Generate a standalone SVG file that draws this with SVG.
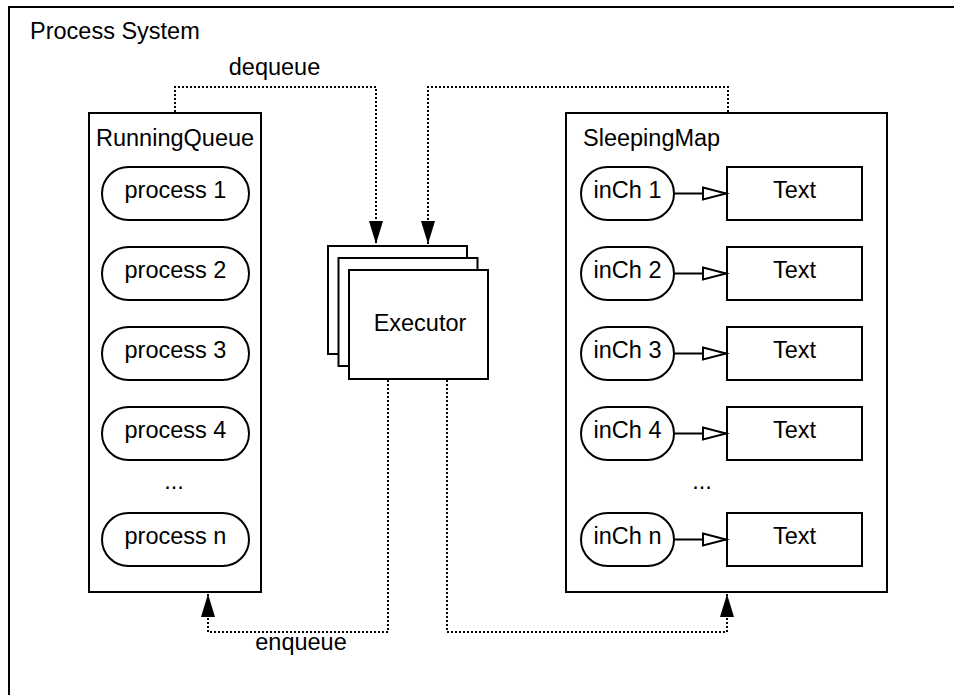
<svg xmlns="http://www.w3.org/2000/svg" width="954" height="695" viewBox="0 0 954 695">
  <style>
    .box { fill: #ffffff; stroke: #000000; stroke-width: 2; }
    .frame { fill: none; stroke: #000000; stroke-width: 2; }
    .lbl { font-family: "Liberation Sans", Arial, sans-serif; font-size: 23.5px; fill: #000000; }
    .mid { text-anchor: middle; }
    .dot { fill: none; stroke: #000000; stroke-width: 2; stroke-dasharray: 2 2; }
    .link { fill: none; stroke: #000000; stroke-width: 2; }
  </style>
  <defs>
    <marker id="solidHead" markerUnits="userSpaceOnUse" markerWidth="24" markerHeight="15" refX="23" refY="7" orient="auto" overflow="visible">
      <path d="M0 0 L23 7 L0 14 Z" fill="#000000"/>
    </marker>
    <marker id="openHead" markerUnits="userSpaceOnUse" markerWidth="24" markerHeight="13" refX="23" refY="6" orient="auto" overflow="visible">
      <path d="M0 0 L23 6 L0 12 Z" fill="#ffffff" stroke="#000000" stroke-width="2"/>
    </marker>
  </defs>

  <!-- outer system frame -->
  <g id="process-system">
    <rect class="frame" x="9" y="7" width="960" height="720"/>
    <text class="lbl" x="30" y="39">Process System</text>
  </g>

  <!-- running queue container -->
  <g id="running-queue">
    <rect class="box" x="89" y="113" width="172" height="479"/>
    <text class="lbl" x="96" y="146">RunningQueue</text>
  </g>
  <g id="process-1">
    <rect class="box" x="102" y="167" width="147" height="53" rx="26.5"/>
    <text class="lbl mid" x="175.5" y="198">process 1</text>
  </g>
  <g id="process-2">
    <rect class="box" x="102" y="247" width="147" height="53" rx="26.5"/>
    <text class="lbl mid" x="175.5" y="278">process 2</text>
  </g>
  <g id="process-3">
    <rect class="box" x="102" y="327" width="147" height="53" rx="26.5"/>
    <text class="lbl mid" x="175.5" y="358">process 3</text>
  </g>
  <g id="process-4">
    <rect class="box" x="102" y="407" width="147" height="53" rx="26.5"/>
    <text class="lbl mid" x="175.5" y="438">process 4</text>
  </g>
  <g id="process-ellipsis">
    <text class="lbl mid" x="174" y="489">...</text>
  </g>
  <g id="process-n">
    <rect class="box" x="102" y="513" width="147" height="53" rx="26.5"/>
    <text class="lbl mid" x="175.5" y="544">process n</text>
  </g>

  <!-- stacked executor -->
  <g id="executor">
    <rect class="box" x="328" y="246" width="139" height="108"/>
    <rect class="box" x="338.5" y="258" width="139" height="108"/>
    <rect class="box" x="349" y="270" width="139" height="109"/>
    <text class="lbl mid" x="420" y="331">Executor</text>
  </g>

  <!-- sleeping map container -->
  <g id="sleeping-map">
    <rect class="box" x="566" y="113" width="321" height="479"/>
    <text class="lbl" x="583" y="146">SleepingMap</text>
  </g>
  <g id="inch-1">
    <rect class="box" x="581" y="167" width="93" height="53" rx="26.5"/>
    <text class="lbl mid" x="627.5" y="198">inCh 1</text>
  </g>
  <g id="inch-2">
    <rect class="box" x="581" y="247" width="93" height="53" rx="26.5"/>
    <text class="lbl mid" x="627.5" y="278">inCh 2</text>
  </g>
  <g id="inch-3">
    <rect class="box" x="581" y="327" width="93" height="53" rx="26.5"/>
    <text class="lbl mid" x="627.5" y="358">inCh 3</text>
  </g>
  <g id="inch-4">
    <rect class="box" x="581" y="407" width="93" height="53" rx="26.5"/>
    <text class="lbl mid" x="627.5" y="438">inCh 4</text>
  </g>
  <g id="inch-ellipsis">
    <text class="lbl mid" x="702" y="489">...</text>
  </g>
  <g id="inch-n">
    <rect class="box" x="581" y="513" width="93" height="53" rx="26.5"/>
    <text class="lbl mid" x="627.5" y="544">inCh n</text>
  </g>
  <g id="text-1">
    <rect class="box" x="727" y="167" width="135" height="53"/>
    <text class="lbl mid" x="794.5" y="198">Text</text>
  </g>
  <g id="text-2">
    <rect class="box" x="727" y="247" width="135" height="53"/>
    <text class="lbl mid" x="794.5" y="278">Text</text>
  </g>
  <g id="text-3">
    <rect class="box" x="727" y="327" width="135" height="53"/>
    <text class="lbl mid" x="794.5" y="358">Text</text>
  </g>
  <g id="text-4">
    <rect class="box" x="727" y="407" width="135" height="53"/>
    <text class="lbl mid" x="794.5" y="438">Text</text>
  </g>
  <g id="text-n">
    <rect class="box" x="727" y="513" width="135" height="53"/>
    <text class="lbl mid" x="794.5" y="544">Text</text>
  </g>

  <!-- connectors -->
  <g id="connectors">
    <path class="dot" d="M175 112 V87 H376 V244" marker-end="url(#solidHead)"/>
    <path class="dot" d="M728 112 V87 H428 V244" marker-end="url(#solidHead)"/>
    <path class="dot" d="M388 380 V632 H208 V594" marker-end="url(#solidHead)"/>
    <path class="dot" d="M447 380 V632 H727 V594" marker-end="url(#solidHead)"/>
    <text class="lbl mid" x="274.5" y="75">dequeue</text>
    <text class="lbl mid" x="301" y="650">enqueue</text>

    <path class="link" d="M674 193.5 H726" marker-end="url(#openHead)"/>
    <path class="link" d="M674 273.5 H726" marker-end="url(#openHead)"/>
    <path class="link" d="M674 353.5 H726" marker-end="url(#openHead)"/>
    <path class="link" d="M674 433.5 H726" marker-end="url(#openHead)"/>
    <path class="link" d="M674 539.5 H726" marker-end="url(#openHead)"/>
  </g>
</svg>
